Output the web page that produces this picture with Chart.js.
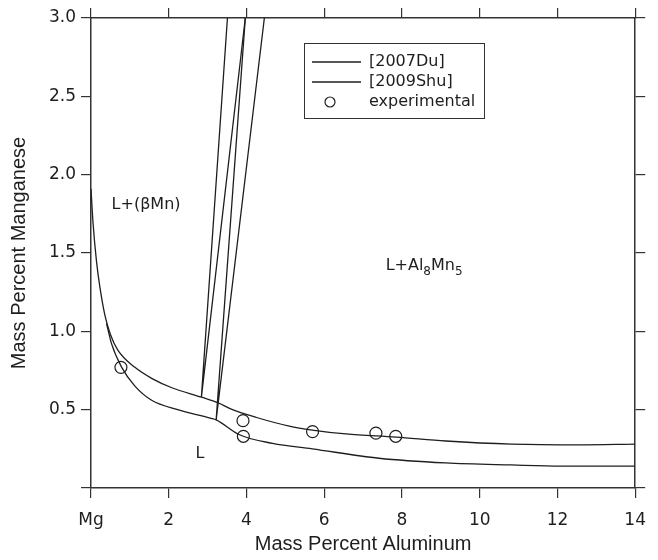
<!DOCTYPE html>
<html>
<head>
<meta charset="utf-8">
<script src="https://cdn.jsdelivr.net/npm/chart.js@4.4.1/dist/chart.umd.min.js"></script>
<style>
  html, body { margin: 0; padding: 0; background: #fff; }
  #wrap { width: 658px; height: 560px; }
</style>
</head>
<body>
<div id="wrap"><canvas id="phaseChart" width="658" height="560"></canvas></div>
<script>
// Liquidus, [2007Du]
const duAl = [0, 0.05, 0.14, 0.23, 0.36, 0.50, 0.69, 1.13, 1.56, 2.08, 2.84, 3.26, 3.64, 4.26, 5.10, 5.69, 6.56, 7.85, 9.13, 10.82, 12.54, 14];
const duMn = [1.91, 1.70, 1.45, 1.28, 1.10, 0.98, 0.88, 0.77, 0.70, 0.64, 0.58, 0.545, 0.50, 0.45, 0.395, 0.37, 0.345, 0.325, 0.30, 0.28, 0.275, 0.28];

// Liquidus, [2009Shu]
const shuAl = [0.40, 0.53, 0.79, 1.13, 1.56, 2.23, 3.09, 3.22, 3.82, 4.67, 5.69, 7.41, 9.12, 10.82, 12.1, 14];
const shuMn = [1.05, 0.92, 0.77, 0.65, 0.56, 0.50, 0.445, 0.435, 0.34, 0.285, 0.25, 0.19, 0.16, 0.147, 0.14, 0.14];

// Three-phase triangle edges (top -> liquid corner -> top)
const duTieAl = [3.51, 2.84, 3.97];
const duTieMn = [3.0, 0.58, 3.0];
const shuTieAl = [3.97, 3.22, 4.46];
const shuTieMn = [3.0, 0.435, 3.0];

// Experimental liquidus points
const expAl = [0.77, 3.91, 3.92, 5.70, 7.33, 7.84];
const expMn = [0.77, 0.43, 0.33, 0.36, 0.35, 0.33];

// Phase field labels ("_" puts the next character as subscript)
const regionText = ['L+(\u03B2Mn)', 'L+Al_8Mn_5', 'L'];
const regionAl = [0.53, 7.58, 2.69];
const regionMn = [1.81, 1.42, 0.22];

const xTicks = [0, 2, 4, 6, 8, 10, 12, 14];
const xOriginLabel = 'Mg';
const yTicks = [0, 0.5, 1.0, 1.5, 2.0, 2.5, 3.0];

const ink = '#1e1e1e';
const tickFont = { family: 'DejaVu Sans', size: 17 };
const titleFont = { family: "'Liberation Sans', Arial, sans-serif", size: 20 };

function pts(xs, ys) {
  return xs.map((v, i) => ({ x: v, y: ys[i] }));
}

function curve(label, xs, ys, extra) {
  return Object.assign({
    label: label,
    data: pts(xs, ys),
    showLine: true,
    borderColor: ink,
    borderWidth: 1.3,
    pointRadius: 0,
    cubicInterpolationMode: 'monotone'
  }, extra || {});
}

const datasets = [
  curve('[2007Du]', duAl, duMn, { inLegend: true }),
  curve('[2009Shu]', shuAl, shuMn, { inLegend: true }),
  curve('', duTieAl, duTieMn, { cubicInterpolationMode: 'default', tension: 0 }),
  curve('', shuTieAl, shuTieMn, { cubicInterpolationMode: 'default', tension: 0 }),
  {
    label: 'experimental',
    inLegend: true,
    data: pts(expAl, expMn),
    showLine: false,
    pointStyle: 'circle',
    pointRadius: 6,
    pointBorderWidth: 1.2,
    pointBorderColor: ink,
    pointBackgroundColor: 'rgba(0,0,0,0)'
  }
];

// labels inside the plot and the boxed key
const overlay = {
  id: 'overlay',
  afterDatasetsDraw(chart) {
    const { ctx, scales: { x, y } } = chart;
    ctx.save();
    ctx.fillStyle = ink;
    ctx.textBaseline = 'middle';
    ctx.textAlign = 'left';
    regionText.forEach((txt, i) => {
      let px = x.getPixelForValue(regionAl[i]);
      const py = y.getPixelForValue(regionMn[i]);
      for (let k = 0; k < txt.length; k++) {
        let ch = txt[k];
        let dy = 0;
        if (ch === '_') {
          k++;
          ch = txt[k];
          ctx.font = '12px "DejaVu Sans"';
          dy = 6;
        } else {
          ctx.font = '16px "DejaVu Sans"';
        }
        ctx.fillText(ch, px, py + dy);
        px += ctx.measureText(ch).width;
      }
    });

    // key
    const bx = 304, by = 43, bw = 180, bh = 75;
    ctx.strokeStyle = '#333';
    ctx.lineWidth = 1;
    ctx.strokeRect(bx + 0.5, by + 0.5, bw, bh);
    ctx.font = '16px "DejaVu Sans"';
    const rows = chart.data.datasets.filter(d => d.inLegend);
    rows.forEach((d, i) => {
      const ry = by + 19 + i * 20;
      ctx.strokeStyle = ink;
      ctx.beginPath();
      if (d.showLine) {
        ctx.lineWidth = 1.3;
        ctx.moveTo(bx + 8, ry);
        ctx.lineTo(bx + 57, ry);
      } else {
        ctx.lineWidth = 1.2;
        ctx.arc(bx + 26, ry, 5, 0, Math.PI * 2);
      }
      ctx.stroke();
      ctx.fillText(d.label, bx + 65, ry);
    });
    ctx.restore();
  }
};

const gridOpts = {
  drawOnChartArea: false,
  drawTicks: true,
  tickLength: 10,
  color: '#333',
  lineWidth: 1.2
};
const borderOpts = { display: true, color: '#333', width: 1.5 };

new Chart(document.getElementById('phaseChart'), {
  type: 'scatter',
  data: { datasets: datasets },
  options: {
    responsive: false,
    animation: false,
    devicePixelRatio: 1,
    layout: { padding: 0 },
    plugins: {
      legend: { display: false },
      tooltip: { enabled: false }
    },
    scales: {
      x: {
        type: 'linear',
        position: 'bottom',
        min: 0,
        max: 14,
        afterBuildTicks: s => { s.ticks = xTicks.map(v => ({ value: v })); },
        ticks: {
          font: tickFont,
          color: ink,
          padding: 12,
          maxRotation: 0,
          callback: v => (v === 0 ? xOriginLabel : String(v))
        },
        grid: gridOpts,
        border: borderOpts,
        title: {
          display: true,
          text: 'Mass Percent Aluminum',
          font: titleFont,
          color: ink,
          padding: { top: 0, bottom: 4 }
        },
        afterFit: s => { s.height = 72; }
      },
      x2: {
        type: 'linear',
        position: 'top',
        min: 0,
        max: 14,
        afterBuildTicks: s => { s.ticks = xTicks.map(v => ({ value: v })); },
        ticks: { display: false },
        grid: gridOpts,
        border: borderOpts,
        afterFit: s => { s.height = 18; }
      },
      y: {
        type: 'linear',
        position: 'left',
        min: 0,
        max: 3,
        afterBuildTicks: s => { s.ticks = yTicks.map(v => ({ value: v })); },
        ticks: {
          font: tickFont,
          color: ink,
          padding: 5,
          callback: v => (v === 0 ? '' : v.toFixed(1))
        },
        grid: gridOpts,
        border: borderOpts,
        title: {
          display: true,
          text: 'Mass Percent Manganese',
          font: titleFont,
          color: ink,
          padding: { top: 7, bottom: 0 }
        },
        afterFit: s => { s.width = 91; }
      },
      y2: {
        type: 'linear',
        position: 'right',
        min: 0,
        max: 3,
        afterBuildTicks: s => { s.ticks = yTicks.map(v => ({ value: v })); },
        ticks: { display: false },
        grid: gridOpts,
        border: borderOpts,
        afterFit: s => { s.width = 21; }
      }
    }
  },
  plugins: [overlay]
});
</script>
</body>
</html>
